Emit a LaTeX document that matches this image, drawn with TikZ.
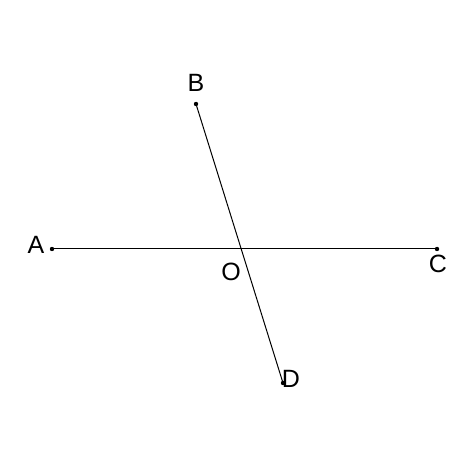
\documentclass[tikz,border=0pt]{standalone}
\usepackage{fontspec}
\setmainfont{Liberation Sans}
\usetikzlibrary{positioning}

\tikzset{
  pt/.style={circle, fill, inner sep=0pt, minimum size=2.2pt},
  lbl/.style={font=\fontsize{12.5}{14}\selectfont, inner sep=0pt}
}

\begin{document}
\begin{tikzpicture}[x=0.5pt, y=-0.5pt]
            \useasboundingbox (0,0) rectangle (474,474);

            \node[pt] (A) at (52,249) {};
            \node[pt] (C) at (437,249) {};
            \node[pt] (B) at (196,104) {};
            \node[pt] (D) at (283,383) {};

            \draw[line width=0.5pt] (A.center) -- (C.center);
            \draw[line width=0.5pt] (B.center) -- (D.center);

            \node[lbl] (lA) at (36,245) {A};
            \node[lbl] (lB) at (196,83) {B};
            \node[lbl] (lC) at (438,264) {C};
            \node[lbl] (lD) at (291,379) {D};
            \node[lbl] (lO) at (231,272) {O};
        \end{tikzpicture}
\end{document}
